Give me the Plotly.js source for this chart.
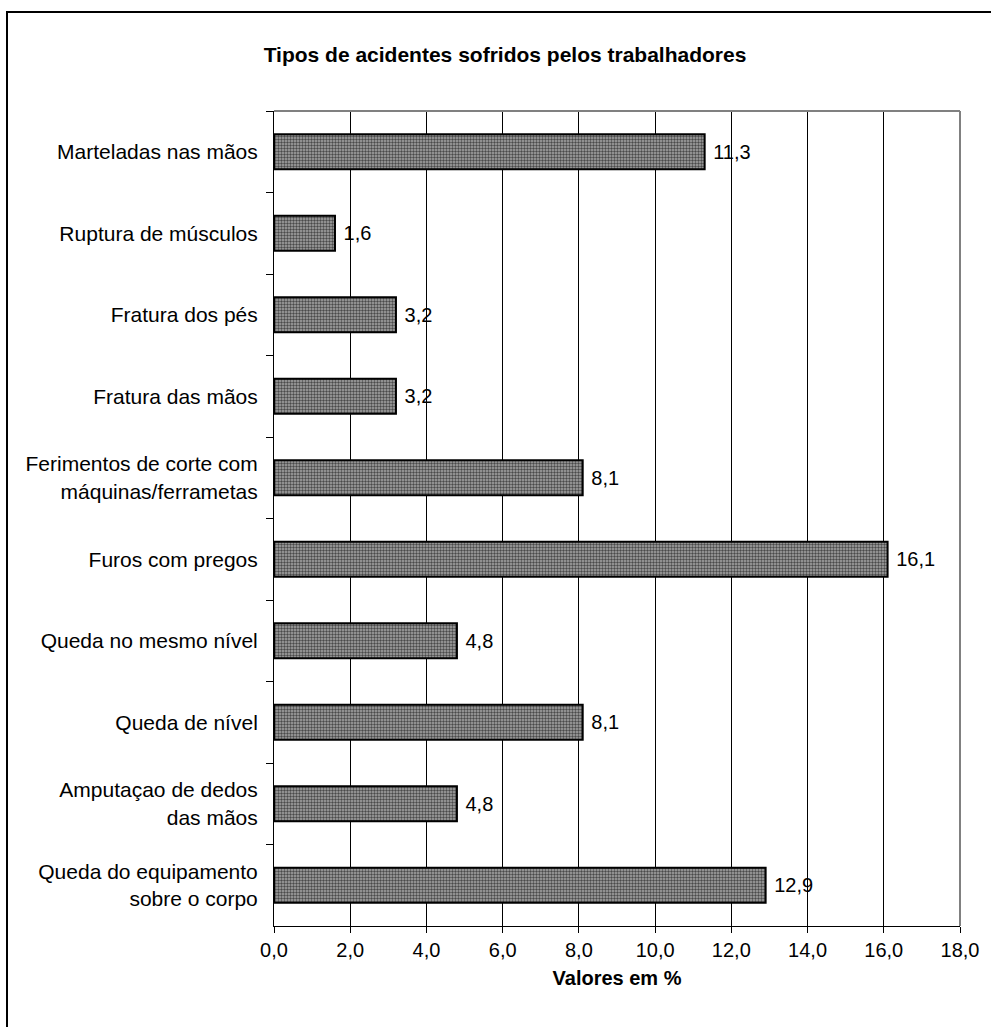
<!DOCTYPE html>
<html>
<head>
<meta charset="utf-8">
<script src="https://cdn.plot.ly/plotly-3.0.1.min.js"></script>
<style>html,body{margin:0;padding:0;background:#fff;}</style>
</head>
<body>
<div id="chart" style="width:991px;height:1027px;"></div>
<script>
const categories = [
  "Marteladas nas mãos",
  "Ruptura de músculos",
  "Fratura dos pés",
  "Fratura das mãos",
  "Ferimentos de corte com<br>máquinas/ferrametas",
  "Furos com pregos",
  "Queda no mesmo nível",
  "Queda de nível",
  "Amputaçao de dedos<br>das mãos",
  "Queda do equipamento<br>sobre o corpo"
];
const values = [11.3, 1.6, 3.2, 3.2, 8.1, 16.1, 4.8, 8.1, 4.8, 12.9];
const xTicks = [0, 2, 4, 6, 8, 10, 12, 14, 16, 18];

const trace = {
  type: 'bar',
  orientation: 'h',
  y: categories,
  x: values,
  width: 0.43,
  marker: {
    color: '#9a9a9a',
    line: {color: '#000', width: 2},
    pattern: {shape: '.', fgcolor: '#4a4a4a', bgcolor: '#a8a8a8', size: 3, solidity: 0.5}
  },
  text: values,
  texttemplate: '\u00a0%{x:.1f}',
  textposition: 'outside',
  cliponaxis: false,
  textfont: {family: 'Liberation Sans, Arial, sans-serif', size: 20, color: '#000'},
  hoverinfo: 'skip'
};

const layout = {
  width: 991, height: 1027,
  margin: {l: 274, r: 31, t: 111, b: 101},
  paper_bgcolor: '#fff', plot_bgcolor: '#fff',
  separators: ',.',
  showlegend: false,
  font: {family: 'Liberation Sans, Arial, sans-serif', size: 20, color: '#000'},
  title: {
    text: '<b>Tipos de acidentes sofridos pelos trabalhadores</b>',
    font: {size: 21, color: '#000'},
    x: 505/991, xref: 'container', xanchor: 'center', y: 1 - 55/1027, yanchor: 'middle'
  },
  xaxis: {
    range: [0, 18],
    tickvals: xTicks,
    tickformat: '.1f',
    showgrid: true, gridcolor: '#000', gridwidth: 1,
    showline: true, linecolor: '#000', linewidth: 1,
    ticks: 'outside', ticklen: 6, tickcolor: '#000',
    zeroline: false,
    fixedrange: true,
    tickfont: {size: 20},
    title: {text: '<b>Valores em %</b>', font: {size: 20}, standoff: 10}
  },
  yaxis: {
    type: 'category',
    autorange: 'reversed',
    showline: true, linecolor: '#000', linewidth: 1,
    ticks: 'outside', ticklen: 7, tickcolor: '#000',
    tickson: 'boundaries',
    showgrid: false,
    ticklabelstandoff: 11,
    tickfont: {size: 21},
    fixedrange: true
  },
  shapes: [
    {type: 'line', xref: 'paper', yref: 'paper', x0: 0, x1: 1, y0: 1, y1: 1, line: {color: '#808080', width: 2}},
    {type: 'line', xref: 'paper', yref: 'paper', x0: 1, x1: 1, y0: 0, y1: 1, line: {color: '#808080', width: 2}},
    {type: 'rect', xref: 'paper', yref: 'paper', x0: (7-274)/686, x1: (1000-274)/686, y0: (926-1040)/815, y1: (926-12)/815, line: {color: '#000', width: 2}, fillcolor: 'rgba(0,0,0,0)'}
  ]
};

Plotly.newPlot('chart', [trace], layout, {staticPlot: true, displayModeBar: false});
</script>
</body>
</html>
